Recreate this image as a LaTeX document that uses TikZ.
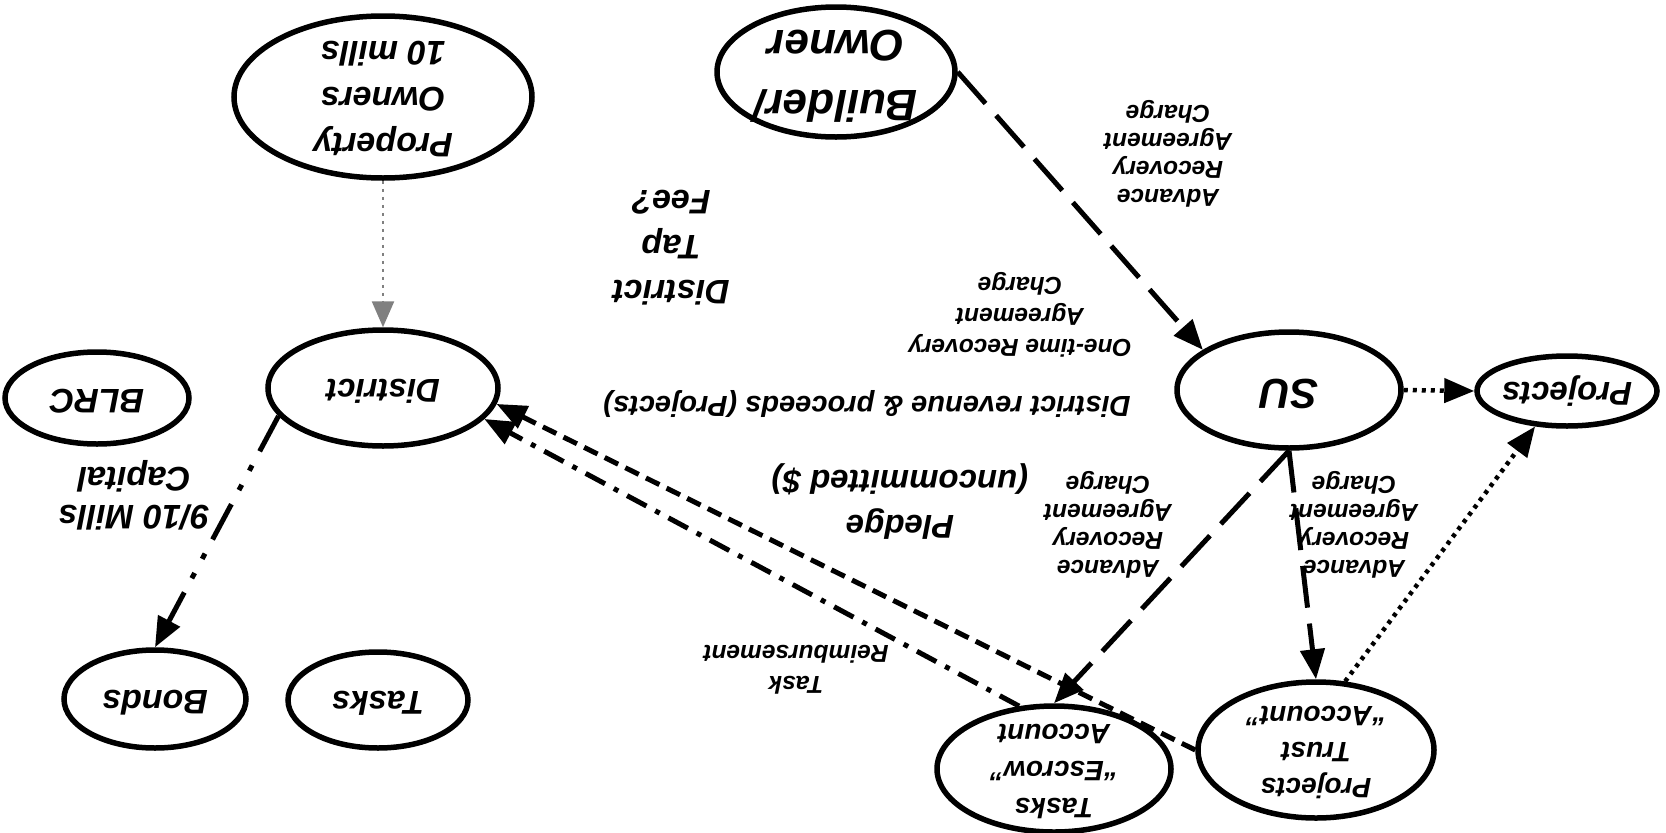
\documentclass[tikz,border=0pt]{standalone}
\usepackage{fontspec}
\usepackage{graphicx}
\setmainfont{Liberation Sans}
\usetikzlibrary{shapes.geometric,arrows.meta}

% upside-down text block
\newcommand{\flipped}[1]{\rotatebox[origin=c]{180}{\begin{tabular}{@{}c@{}}#1\end{tabular}}}

\tikzset{
  ell/.style 2 args={draw, ellipse, line width=5.5pt, inner sep=0pt, minimum width=#1pt, minimum height=#2pt},
  txt/.style 2 args={inner sep=0pt, font=\fontsize{#1}{#2}\selectfont\bfseries\itshape},
  head/.style={-{Triangle[length=30pt,width=24pt]}},
  longdash/.style={line width=5pt, dash pattern=on 42pt off 16pt, head},
  shortdash/.style={line width=5pt, dash pattern=on 15pt off 8pt, head},
  dashdot/.style={line width=5pt, dash pattern=on 22pt off 10pt on 5pt off 10pt, head},
  dashdotdot/.style={line width=5pt, dash pattern=on 40pt off 16pt on 6pt off 16pt on 6pt off 16pt, head},
  dots/.style={line width=4.5pt, dash pattern=on 4pt off 5pt, head},
  greydots/.style={line width=2.5pt, gray, dash pattern=on 3pt off 5pt, -{Triangle[length=26pt,width=22pt]}},
}

\begin{document}
\begin{tikzpicture}[x=1pt, y=-1pt]
    \useasboundingbox (0,0) rectangle (1666,833);
    % left side
    \node[ell={298}{162}] (PO) at (383,97) {};
    \node[txt={34}{46}] (PO-t) at (PO) {\flipped{Property\\Owners\\10 mills}};
    \node[ell={230}{116}] (DI) at (383,388) {};
    \node[txt={33}{44}] (DI-t) at (DI) {\flipped{District}};
    \node[ell={184}{92}] (BL) at (97,398) {};
    \node[txt={34}{44}] (BL-t) at (BL) {\flipped{BLRC}};
    \node[ell={182}{98}] (BN) at (155,699) {};
    \node[txt={34}{44}] (BN-t) at (BN) {\flipped{Bonds}};
    \node[ell={180}{96}] (TK) at (378,700) {};
    \node[txt={33}{44}] (TK-t) at (TK) {\flipped{Tasks}};
    % right side
    \node[ell={238}{130}] (BO) at (836,72) {};
    \node[txt={44}{60}] (BO-t) at (BO) {\flipped{Builder/\\Owner}};
    \node[ell={224}{116}] (SU) at (1289,390) {};
    \node[txt={42}{54}] (SU-t) at (SU) {\flipped{SU}};
    \node[ell={180}{70}] (PR) at (1567,391) {};
    \node[txt={33}{44}] (PR-t) at (PR) {\flipped{Projects}};
    \node[ell={234}{126}] (TE) at (1054,769) {};
    \node[txt={28}{37}] (TE-t) at (TE) {\flipped{Tasks\\``Escrow''\\Account}};
    \node[ell={236}{136}] (PT) at (1316,750) {};
    \node[txt={28}{36}] (PT-t) at (PT) {\flipped{Projects\\Trust\\``Account''}};
    % labels
    \node[txt={34}{45}] (tapfee) at (671,244) {\flipped{District\\Tap\\Fee?}};
    \node[txt={24.5}{31}] (onetime) at (1020,315) {\flipped{One-time Recovery\\Agreement\\Charge}};
    \node[txt={24.5}{28}] (adv-bo) at (1168,153) {\flipped{Advance\\Recovery\\Agreement\\Charge}};
    \node[txt={24.5}{28}] (adv-te) at (1108,524) {\flipped{Advance\\Recovery\\Agreement\\Charge}};
    \node[txt={24.5}{28}] (adv-pt) at (1354,524) {\flipped{Advance\\Recovery\\Agreement\\Charge}};
    \node[txt={29}{36}] (revenue) at (867,404) {\flipped{District revenue \& proceeds (Projects)}};
    \node[txt={33}{45}] (pledge) at (900,502) {\flipped{Pledge\\(uncommitted \$)}};
    \node[txt={24.5}{31}] (reimb) at (796,667) {\flipped{Task\\Reimbursement}};
    \node[txt={34}{38}] (mills) at (134,494) {\flipped{9/10 Mills\\Capital}};
    % flows
    \draw[greydots] (PO) -- (DI);
    \draw[longdash] (BO.east) -- (SU.155);
    \draw[dots] (SU.east) -- (PR.west);
    \draw[longdash] (SU.south) -- (TE.north);
    \draw[longdash] (SU.south) -- (PT.north);
    \draw[dots] (PT.67) -- (PR.228);
    \draw[shortdash] (PT.west) -- (DI.-8);
    \draw[dashdot] (TE.119) -- (DI.-17);
    \draw[dashdotdot] (DI.195) -- (BN.north);
\end{tikzpicture}
\end{document}
